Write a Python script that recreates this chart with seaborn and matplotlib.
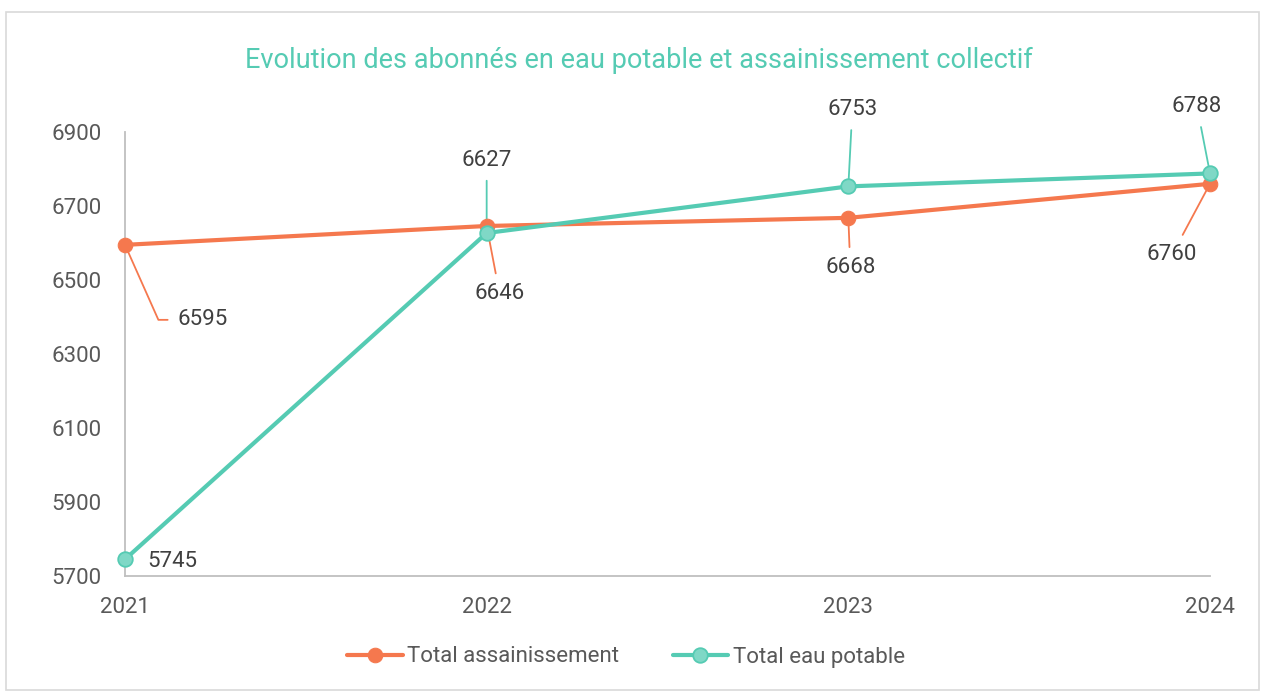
import matplotlib
matplotlib.use("Agg")
import matplotlib.pyplot as plt
import seaborn as sns
import pandas as pd
from matplotlib.patches import Rectangle

years = [2021, 2022, 2023, 2024]
assainissement = [6595, 6646, 6668, 6760]
eau_potable = [5745, 6627, 6753, 6788]
series_names = ["Total assainissement", "Total eau potable"]
y_ticks = [5700, 5900, 6100, 6300, 6500, 6700, 6900]
title = "Evolution des abonnés en eau potable et assainissement collectif"

ORANGE = "#F5784E"
TEAL = "#55CBB3"
TEAL_FILL = "#7FD8C6"

sns.set_theme(style="white")
plt.rcParams["font.family"] = ["Roboto", "DejaVu Sans"]

df = pd.DataFrame({
    "year": years * 2,
    "value": assainissement + eau_potable,
    "serie": [series_names[0]] * 4 + [series_names[1]] * 4,
})

fig = plt.figure(figsize=(12.65, 6.95), dpi=100)
fig.patches.append(Rectangle((6 / 1265, 1 - 690 / 695), 1253 / 1265, 678 / 695,
                             transform=fig.transFigure, fill=False,
                             edgecolor="#D9D9D9", linewidth=1.2))
ax = fig.add_axes([125 / 1265, 1 - 576 / 695, 1085 / 1265, 444 / 695])

sns.lineplot(data=df[df.serie == series_names[0]], x="year", y="value", ax=ax,
             color=ORANGE, linewidth=3, marker="o", markersize=10.5,
             markerfacecolor=ORANGE, markeredgecolor=ORANGE, label=series_names[0])
sns.lineplot(data=df[df.serie == series_names[1]], x="year", y="value", ax=ax,
             color=TEAL, linewidth=3, marker="o", markersize=10.5,
             markerfacecolor=TEAL_FILL, markeredgecolor=TEAL, markeredgewidth=1.3,
             label=series_names[1])
for ln in ax.lines:
    ln.set_clip_on(False)
    ln.set_zorder(3)

ax.set_xlim(years[0], years[-1])
ax.set_ylim(y_ticks[0], y_ticks[-1])
ax.set_xticks(years)
ax.set_xticklabels([str(y) for y in years])
ax.set_yticks(y_ticks)
ax.set_xlabel("")
ax.set_ylabel("")
for s in ["top", "right"]:
    ax.spines[s].set_visible(False)
for s in ["left", "bottom"]:
    ax.spines[s].set_color("#BFBFBF")
    ax.spines[s].set_linewidth(1.3)
    ax.spines[s].set_zorder(1)
ax.tick_params(axis="both", length=0, labelsize=16, colors="#595959")
ax.tick_params(axis="y", pad=17)
ax.tick_params(axis="x", pad=15)

LABEL_COLOR = "#404040"
# offsets in pixels from the data point to the label centre
offs_a = [(78, -75), (13, -68), (2, -50), (-38, -71)]
offs_e = [(47, -2), (0, 73), (4, 77), (-13, 67)]

for i, (x, v) in enumerate(zip(years, assainissement)):
    dx, dy = offs_a[i]
    if i == 0:
        cs = "angle,angleA=0,angleB=-66,rad=0"
    else:
        cs = "arc3"
    ax.annotate(str(v), xy=(x, v), xytext=(dx, dy), textcoords="offset pixels",
                ha="center", va="center", fontsize=16, color=LABEL_COLOR,
                arrowprops=dict(arrowstyle="-", color=ORANGE, lw=1.3,
                                shrinkA=5, shrinkB=0, connectionstyle=cs),
                annotation_clip=False, zorder=2)

for i, (x, v) in enumerate(zip(years, eau_potable)):
    dx, dy = offs_e[i]
    ap = None
    if i > 0:
        ap = dict(arrowstyle="-", color=TEAL, lw=1.3, shrinkA=5, shrinkB=0)
    ax.annotate(str(v), xy=(x, v), xytext=(dx, dy), textcoords="offset pixels",
                ha="center", va="center", fontsize=16, color=LABEL_COLOR,
                arrowprops=ap, annotation_clip=False, zorder=2)

fig.text(639 / 1265, 1 - 60 / 695, title, ha="center", va="center",
         fontsize=19.5, color=TEAL)

handles, labels = ax.get_legend_handles_labels()
ax.get_legend().remove()
fig.legend(handles, labels, loc="center", bbox_to_anchor=(626 / 1265, 1 - 657 / 695),
           ncol=2, frameon=False, fontsize=16, labelcolor="#595959",
           handlelength=2.5, handletextpad=0.2, columnspacing=2.4)

fig.savefig("out.png", dpi=100)
